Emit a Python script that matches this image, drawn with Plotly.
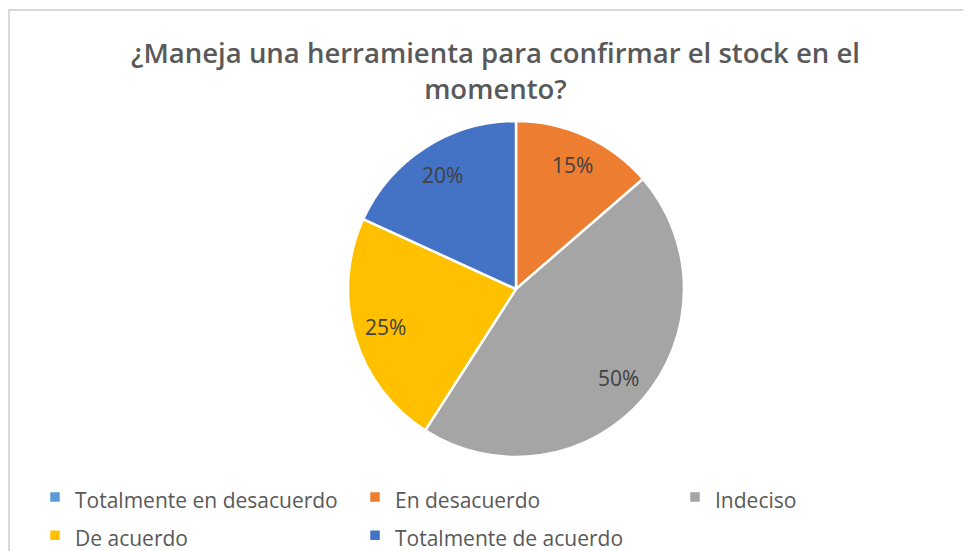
import math
import plotly.graph_objects as go

labels = ["Totalmente en desacuerdo", "En desacuerdo", "Indeciso", "De acuerdo", "Totalmente de acuerdo"]
values = [0, 15, 50, 25, 20]
colors = ["#5B9BD5", "#ED7D31", "#A5A5A5", "#FFC000", "#4472C4"]
title_text = "¿Maneja una herramienta para confirmar el stock en el<br>momento?"

OFF = 8             # page body margin
W, H = 971 - OFF, 551 - OFF
LY = 465            # legend top (px); plotly reserves the space below it
cx, cy, R = 516 - OFF, 289 - OFF, 168


def px_x(px):
    return px / W


def px_y(py):
    return (LY - py) / LY


legend_labels = [f"<span style='font-size:21px'>{l}</span>" for l in labels]

fig = go.Figure()
fig.add_trace(go.Pie(
    labels=legend_labels, values=values, sort=False, direction="clockwise", rotation=0,
    marker=dict(colors=colors, line=dict(color="white", width=2.5)),
    textinfo="none", hoverinfo="value",
    domain=dict(x=[px_x(cx - R), px_x(cx + R)], y=[px_y(cy + R), px_y(cy - R)]),
))

total = sum(values)
cum = 0
for lab, v in zip(labels, values):
    if v > 0:
        th = 2 * math.pi * (cum + v / 2) / total
        px = cx + 0.81 * R * math.sin(th)
        py = cy - 0.81 * R * math.cos(th)
        fig.add_annotation(x=px_x(px), y=px_y(py), xref="paper", yref="paper",
                           xanchor="center", yanchor="middle",
                           text=f"{v}%", showarrow=False,
                           font=dict(family="Open Sans", size=21, color="#404040"))
    cum += v

fig.add_shape(type="rect", xref="paper", yref="paper",
              x0=px_x(9 - OFF), x1=px_x(990), y0=px_y(570), y1=px_y(10 - OFF),
              line=dict(color="#D9D9D9", width=2), fillcolor="rgba(0,0,0,0)", layer="below")

fig.update_layout(
    width=W, height=H,
    margin=dict(l=0, r=0, t=0, b=0),
    paper_bgcolor="white", plot_bgcolor="white",
    title=dict(text=title_text, x=0.5 + 6 / W, xanchor="center", y=1 - 55 / H, yanchor="top",
               font=dict(family="Open Sans", size=27.5, color="#595959", weight=600)),
    legend=dict(orientation="h", xref="container", yref="container",
                x=27 / W, xanchor="left", y=1 - LY / H, yanchor="top",
                entrywidth=275, entrywidthmode="pixels",
                font=dict(family="Open Sans", size=27, color="#595959"),
                traceorder="normal"),
)

fig.write_html("out.html")
